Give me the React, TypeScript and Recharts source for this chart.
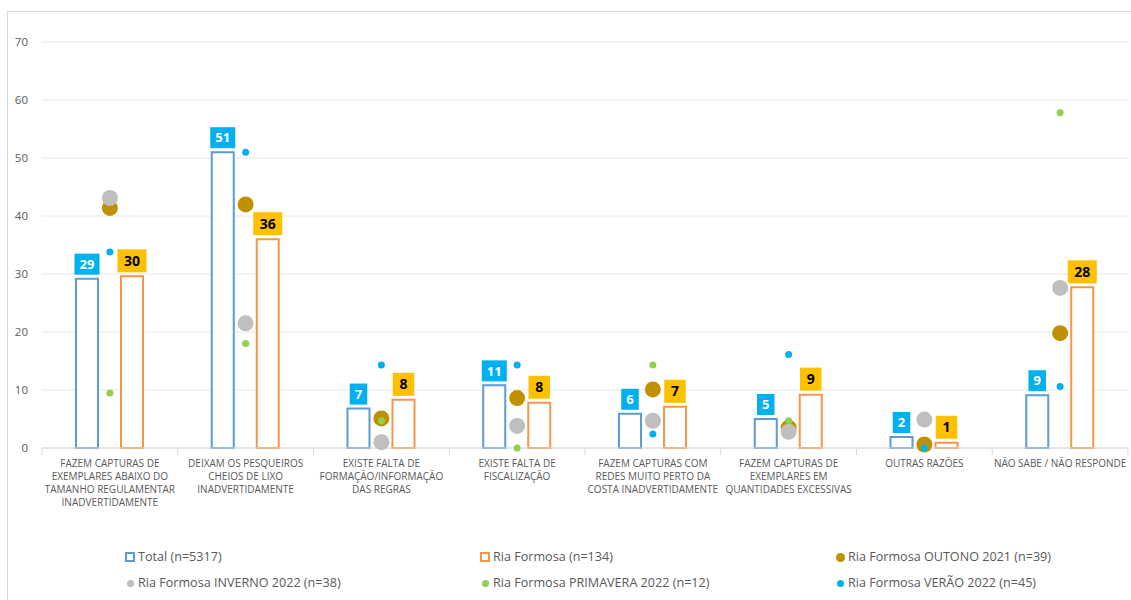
import React from "react"
import { ComposedChart, Bar, Scatter, XAxis, YAxis, CartesianGrid, LabelList } from "recharts"

// categorias (quebras de linha como no original)
const categories = [
    "FAZEM CAPTURAS DE\nEXEMPLARES ABAIXO DO\nTAMANHO REGULAMENTAR\nINADVERTIDAMENTE",
    "DEIXAM OS PESQUEIROS\nCHEIOS DE LIXO\nINADVERTIDAMENTE",
    "EXISTE FALTA DE\nFORMAÇÃO/INFORMAÇÃO\nDAS REGRAS",
    "EXISTE FALTA DE\nFISCALIZAÇÃO",
    "FAZEM CAPTURAS COM\nREDES MUITO PERTO DA\nCOSTA INADVERTIDAMENTE",
    "FAZEM CAPTURAS DE\nEXEMPLARES EM\nQUANTIDADES EXCESSIVAS",
    "OUTRAS RAZÕES",
    "NÃO SABE / NÃO RESPONDE",
]

const total = [29.2, 51, 6.8, 10.8, 5.9, 5, 1.9, 9.1]
const riaFormosa = [29.6, 36, 8.3, 7.8, 7.1, 9.2, 0.9, 27.7]
const outono = [41.4, 42, 5.1, 8.6, 10.1, 3.5, 0.6, 19.8]
const inverno = [43.1, 21.5, 1, 3.8, 4.7, 2.8, 4.9, 27.6]
const primavera = [9.5, 18, 4.7, 0, 14.3, 4.7, 0, 57.8]
const verao = [33.8, 51, 14.3, 14.3, 2.4, 16.1, 0, 10.6]

const yTicks = [0, 10, 20, 30, 40, 50, 60, 70]

const legendItems = [
    { label: "Total (n=5317)", color: "#5B9BD5", kind: "square" },
    { label: "Ria Formosa (n=134)", color: "#F79646", kind: "square" },
    { label: "Ria Formosa OUTONO 2021 (n=39)", color: "#BF9000", kind: "big" },
    { label: "Ria Formosa INVERNO 2022 (n=38)", color: "#BFBFBF", kind: "dot" },
    { label: "Ria Formosa PRIMAVERA 2022 (n=12)", color: "#92D050", kind: "dot" },
    { label: "Ria Formosa VERÃO 2022 (n=45)", color: "#00B0F0", kind: "dot" },
]

const CHART_W = 1124
const CHART_H = 589
const MARGIN = { top: 31, right: 3, left: 0, bottom: 72 }
const Y_AXIS_W = 35
const BAND = (CHART_W - MARGIN.left - Y_AXIS_W - MARGIN.right) / categories.length
const FONT = "'Open Sans', sans-serif"
const TEXT_GRAY = "#595959"
const LINE_GRAY = "#d9d9d9"

const data = categories.map((name, i) => ({
    name,
    total: total[i],
    ria: riaFormosa[i],
    outono: outono[i],
    inverno: inverno[i],
    primavera: primavera[i],
    verao: verao[i],
}))

function CategoryTick(props: any) {
    const { x, y, payload, index } = props
    const lines = String(payload.value).split("\n")
    const axisY = y - 8
    return (
        <g>
            <line x1={x - BAND / 2} x2={x - BAND / 2} y1={axisY} y2={axisY + 7} stroke={LINE_GRAY} />
            {index === categories.length - 1 && (
                <line x1={x + BAND / 2} x2={x + BAND / 2} y1={axisY} y2={axisY + 7} stroke={LINE_GRAY} />
            )}
            <text x={x} y={axisY + 18.5} textAnchor="middle" fill={TEXT_GRAY} fontSize={10} fontFamily={FONT}>
                {lines.map((l, k) => (
                    <tspan key={k} x={x} dy={k === 0 ? 0 : 13.3}>{l}</tspan>
                ))}
            </text>
        </g>
    )
}

function boxLabel(bg: string, color: string, padX: number, h: number, fontSize: number) {
    return (props: any) => {
        const { x, y, width, value } = props
        if (value == null) return null
        const text = String(Math.round(Number(value)))
        const w = padX + text.length * 7.5
        const cx = Number(x) + Number(width) / 2
        const bottom = Number(y) - 4
        return (
            <g>
                <rect x={cx - w / 2} y={bottom - h} width={w} height={h} fill={bg} />
                <text x={cx} y={bottom - h / 2} dy="0.36em" textAnchor="middle" fill={color}
                    fontWeight={700} fontSize={fontSize} fontFamily={FONT}>{text}</text>
            </g>
        )
    }
}

function dot(r: number, fill: string) {
    return (props: any) => {
        if (props.cx == null || props.cy == null) return <g />
        return <circle cx={props.cx} cy={props.cy} r={r} fill={fill} />
    }
}

function LegendBlock() {
    const textLeft = [138, 493, 848]
    const rows = [557, 583]
    return (
        <>
            {legendItems.map((it, i) => {
                const left = textLeft[i % 3]
                const cy = rows[Math.floor(i / 3)]
                let marker
                if (it.kind === "square") {
                    marker = <div style={{ position: "absolute", left: left - 13, top: cy - 5, width: 6, height: 6, border: `2px solid ${it.color}` }} />
                } else {
                    const r = it.kind === "big" ? 4.5 : 3.5
                    marker = <div style={{ position: "absolute", left: left - 8 - r, top: cy - r, width: 2 * r, height: 2 * r, borderRadius: r, background: it.color }} />
                }
                return (
                    <React.Fragment key={it.label}>
                        {marker}
                        <div style={{
                            position: "absolute", left, top: cy - 10, height: 20, lineHeight: "20px",
                            fontFamily: FONT, fontSize: 12.6, color: TEXT_GRAY, whiteSpace: "nowrap",
                        }}>{it.label}</div>
                    </React.Fragment>
                )
            })}
        </>
    )
}

export default function App() {
    return (
        <>
            <style>{`body{margin:0;overflow:hidden;background:#fff}`}</style>
            <div style={{
                position: "absolute", left: 7, top: 11, width: CHART_W, height: CHART_H,
                border: `1px solid ${LINE_GRAY}`, borderRight: "none", borderBottom: "none", boxSizing: "border-box",
            }}>
                <div style={{ position: "absolute", left: -1, top: -1 }}>
                    <ComposedChart width={CHART_W} height={CHART_H} data={data} margin={MARGIN} barGap={23}>
                        <CartesianGrid vertical={false} stroke="#e6e6e6" />
                        <XAxis dataKey="name" interval={0} height={80} tickLine={false}
                            axisLine={{ stroke: LINE_GRAY }} tick={<CategoryTick />} />
                        <YAxis width={Y_AXIS_W} domain={[0, 70]} ticks={yTicks} axisLine={false} tickLine={false}
                            tickMargin={8} tick={{ fill: TEXT_GRAY, fontSize: 11.5, fontFamily: FONT }} />
                        <Bar dataKey="total" fill="#ffffff" stroke="#5B9BD5" strokeWidth={2} barSize={22} isAnimationActive={false}>
                            <LabelList dataKey="total" content={boxLabel("#00B0F0", "#ffffff", 10, 21, 13)} />
                        </Bar>
                        <Bar dataKey="ria" fill="#ffffff" stroke="#F79646" strokeWidth={2} barSize={22} isAnimationActive={false}>
                            <LabelList dataKey="ria" content={boxLabel("#FFC000", "#000000", 14, 23, 14)} />
                        </Bar>
                        <Scatter dataKey="outono" fill="#BF9000" shape={dot(8, "#BF9000")} isAnimationActive={false} />
                        <Scatter dataKey="inverno" fill="#BFBFBF" shape={dot(8, "#BFBFBF")} isAnimationActive={false} />
                        <Scatter dataKey="primavera" fill="#92D050" shape={dot(3.5, "#92D050")} isAnimationActive={false} />
                        <Scatter dataKey="verao" fill="#00B0F0" shape={dot(3.5, "#00B0F0")} isAnimationActive={false} />
                    </ComposedChart>
                </div>
            </div>
            <LegendBlock />
        </>
    )
}
